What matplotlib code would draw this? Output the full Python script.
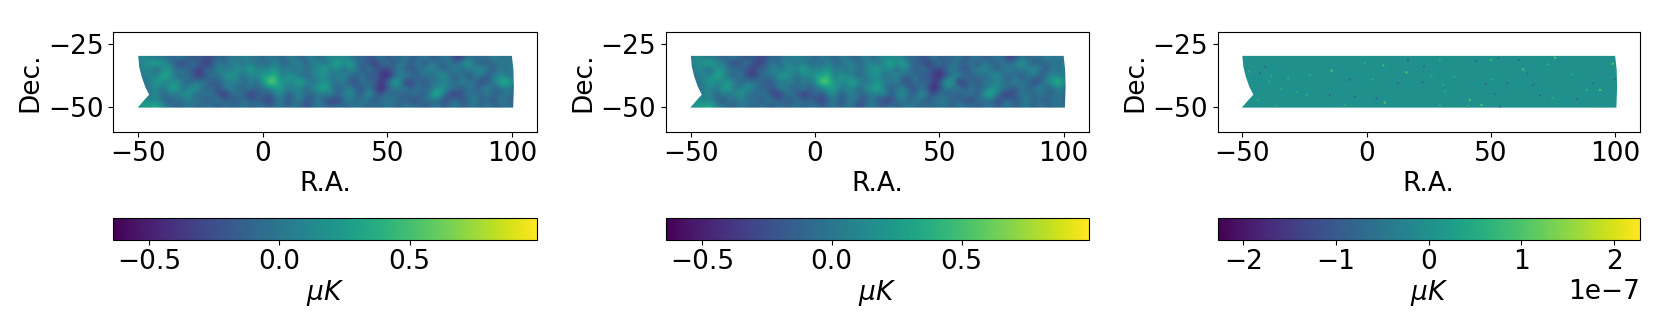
import numpy as np
import matplotlib
matplotlib.use('Agg')
import matplotlib.pyplot as plt
from matplotlib.patches import Polygon

# temperature, one list per declination, R.A. -50..100 in 2.5 deg steps
dec_30 = [.1, .2, .1, .0, .1, -.1, .0, .1, -.1, -.2, -.1, -.2, -.2, .0, -.1, .1, .0, .2, .0, .1,
          -.1, .1, .0, -.1, .1, .1, -.1, .0, .2, -.1, .1, .2, .1, .2, .1, -.1, .0, -.2, -.1, .1,
          -.2, .0, -.1, .1, -.2, .0, .1, -.1, -.1, .1, .0, -.3, -.3, .1, -.1, .1, -.1, .2, .0, .1, .0]
dec_32 = [.1, .2, .3, .45, .2, .1, -.1, -.3, -.1, .1, -.2, -.35, -.1, .1, -.1, .2, .1, .0, .2, -.1,
          .1, -.1, .2, .0, -.1, .2, .1, -.1, .1, .2, .0, .2, .45, .2, .4, .1, -.1, -.1, -.35, -.1,
          .1, -.2, .1, .0, -.1, .1, -.2, .1, .0, -.1, .1, -.1, .2, .3, .1, -.2, .0, -.1, .1, .0, .1]
dec_35 = [.0, .2, .1, -.1, .2, .3, .0, .1, -.1, -.2, -.3, .0, -.1, .2, .1, .0, .3, .1, .4, .2,
          .1, .2, .3, .0, .2, -.1, .2, .0, .1, .2, .4, .1, .2, -.1, .2, .1, -.2, .1, -.1, -.2,
          -.3, .0, .1, -.1, -.2, .0, .1, .2, .1, -.1, .0, .2, -.1, .1, .1, .3, .1, -.2, .1, .0, .1]
dec_37 = [.0, .1, .2, .1, .45, .3, .0, -.1, .1, -.2, -.35, -.1, .1, .0, .2, .4, .1, .0, .2, .1,
          .35, .3, .5, .1, .2, .3, .0, -.1, .1, .2, .2, .0, .1, .2, .0, -.1, .1, -.2, -.1, -.3,
          -.45, -.2, .1, .2, .0, -.1, .1, -.1, .1, .3, .0, -.1, .1, -.2, .0, .1, -.2, .1, .2, .1, .0]
dec_40 = [.0, .0, .1, .35, .2, .1, .3, .1, -.1, .0, .1, .0, -.2, -.1, .1, .0, .2, -.1, .1, .0,
          .2, .75, .6, .2, .3, .1, .5, .2, .0, .1, .3, .1, .0, .1, -.2, -.2, .1, -.1, .0, -.35,
          -.1, .4, .3, -.45, -.2, .0, -.25, .1, .0, .1, .1, -.1, .2, .0, .1, -.3, -.1, .1, .3, .6, .2]
dec_42 = [.1, .0, .1, .2, .0, .3, .4, .0, .1, .35, .1, -.1, .0, -.2, .1, .2, -.1, .0, .1, -.1,
          .0, .1, .3, .35, .0, .2, .1, -.1, .2, .3, .45, .1, -.1, .0, .2, -.1, -.2, .1, -.2, -.45,
          -.2, .1, .0, .2, -.2, .1, .0, -.1, .2, .3, .0, .1, -.2, .1, -.1, .0, .2, -.1, .0, .1, .0]
dec_45 = [.1, .0, .1, .2, -.1, .1, .0, .2, .3, .0, -.1, .1, .0, -.2, -.4, -.1, .1, -.1, -.35, -.2,
          .0, -.2, .1, .2, -.1, .0, .2, .0, -.1, .1, .0, .2, -.1, .1, .2, .0, -.1, .25, .0, -.2,
          .1, -.1, .0, -.2, .1, .0, -.2, .3, .55, .1, -.2, -.4, -.1, .0, .1, -.1, .1, .0, -.1, .1, .0]
dec_47 = [.2, .3, .1, .2, .0, -.2, .1, -.1, .1, .0, .1, -.2, .0, .1, -.1, .0, -.2, .1, -.1, .0,
          -.2, -.3, -.1, .1, -.2, .0, .1, -.2, -.1, .1, -.1, -.3, -.3, .0, .1, -.1, .1, .0, -.2, .1,
          .0, .1, -.1, .0, -.2, -.25, .1, -.1, .0, -.25, -.1, .1, -.2, .0, .1, -.1, .0, -.2, .1, .0, -.1]
dec_50 = [.2, .3, .4, .5, .2, .1, -.1, .0, .1, .0, -.1, .1, .0, -.2, .1, -.1, .0, .1, -.1, .0,
          .1, -.1, .0, .1, -.1, .1, .0, -.2, .0, .1, .0, -.1, .1, -.1, .0, .1, .0, -.1, .1, -.1,
          .1, .0, -.1, .1, .0, .1, -.2, .0, .1, -.1, .0, .1, -.1, .0, .1, -.1, .1, .0, -.1, .1, .0]

# outline of the observed patch
edge_ra = [-50, -49.6, -48.6, -47.2, -45.6, -47.8, -50.2, 100.5, 100.8, 100.6, 100]
edge_dec = [-29.6, -34, -38, -42, -45.2, -47.6, -50.4, -50.4, -42, -35, -29.6]

# isolated pixels of the difference map
speck_ra = [-39.2, -38.3, -47.3, -41, -43, -22.9, -14.1, -6.8, -0.7, 2.6, 6.7, 12.7, 16.7, 16, 7.3,
            -4.8, -24.2, -28.2, -36.3, -43.7, -34.3, -14.8, -8.8, 4, -31.6, 29.5, 44.2, 50, 52.9,
            61.3, 75.8, 99, 23.1, 35.2, 26.1, 22.5, 30.8, 31.5, 48, 56.6, 50, 63, 64.7, 73, 67,
            51.6, 41.5, 46.2, 29.5, 40.6, 69.7, 74.7, 88.5, 93.9, 82.5, 91.2, 99.9, 93.9, 84.5, 53.6]
speck_dec = [-39.9, -37.9, -35.9, -33.9, -36.6, -37.2, -35.6, -39.2, -32.5, -39.2, -33.5, -40.6, -31.2,
             -36.2, -48.4, -46, -45.3, -44.2, -49.7, -47.3, -43, -45.3, -49.3, -46.6, -38.6, -31.6,
             -31.6, -31.2, -30.5, -31.2, -30.3, -32.8, -33.9, -37.9, -37.6, -40.2, -41.3, -43.9, -40.9,
             -40.6, -39.2, -35, -36.8, -33, -41.3, -45, -47.3, -49.3, -49.3, -50, -45.5, -46.6, -43.3,
             -43.3, -37, -40.6, -39, -50, -46.9, -50]
speck_val = [.5, .5, .5, -.7, -.7, .5, 1.0, -.7, .5, .5, .8, -.7, -.7, 1.0, 1.0,
             -.7, .5, .5, .5, .5, .5, -.7, .5, -.7, .5, .5, -.7, .8, -.7,
             -.7, 1.0, 1.0, -.7, .5, .5, -.7, .5, .5, -.7, -.7, .5, 1.0, -.7, .5, -.7,
             -.7, 1.0, 1.0, .5, .5, -.7, .5, .5, 1.0, .5, -.7, -.7, .5, -.7, -.7]

# the readings came out a little warm once smoothed
temp_map = np.array([dec_30, dec_32, dec_35, dec_37, dec_40, dec_42, dec_45, dec_47, dec_50]) - 0.05
diff_map = np.zeros_like(temp_map)
speck_val = np.array(speck_val) * 1e-7

W, H = 1660, 317
plt.rcParams['font.size'] = 19
fig = plt.figure(figsize=(W / 100, H / 100), dpi=100)


def pixel_axes(left, right, top, bottom):
    return fig.add_axes([left / W, 1 - bottom / H, (right - left) / W, (bottom - top) / H])


def draw_panel(left, right, data, vmin, vmax, ticks, specks=False):
    ax = pixel_axes(left, right, 32, 131.5)
    im = ax.imshow(data, extent=(-51.25, 101.25, -51.25, -28.75), cmap='viridis', vmin=vmin, vmax=vmax,
                   interpolation='bicubic', aspect='auto')
    patch = Polygon(np.column_stack([edge_ra, edge_dec]), transform=ax.transData, fc='none', ec='none')
    ax.add_patch(patch)
    im.set_clip_path(patch)
    if specks:
        dots = ax.scatter(speck_ra, speck_dec, c=speck_val, s=3, linewidths=0, cmap='viridis', vmin=vmin, vmax=vmax)
        dots.set_clip_path(patch)
    ax.set_xlim(-60, 110)
    ax.set_ylim(-60, -20)
    ax.set_xticks([-50, 0, 50, 100])
    ax.set_yticks([-25, -50])
    ax.set_xlabel('R.A.', labelpad=3)
    ax.set_ylabel('Dec.', labelpad=3)

    cax = pixel_axes(left, right, 218.3, 239.5)
    cbar = fig.colorbar(im, cax=cax, orientation='horizontal', ticks=ticks)
    cbar.set_label(r'$\mu K$', labelpad=2)
    return ax


draw_panel(113.3, 536.8, temp_map, -0.638, 0.989, [-0.5, 0.0, 0.5])
draw_panel(666, 1088.5, temp_map, -0.638, 0.989, [-0.5, 0.0, 0.5])
draw_panel(1217.5, 1640, diff_map, -2.28e-7, 2.28e-7, [-2e-7, -1e-7, 0, 1e-7, 2e-7], specks=True)

fig.savefig('out.png', dpi=100)
